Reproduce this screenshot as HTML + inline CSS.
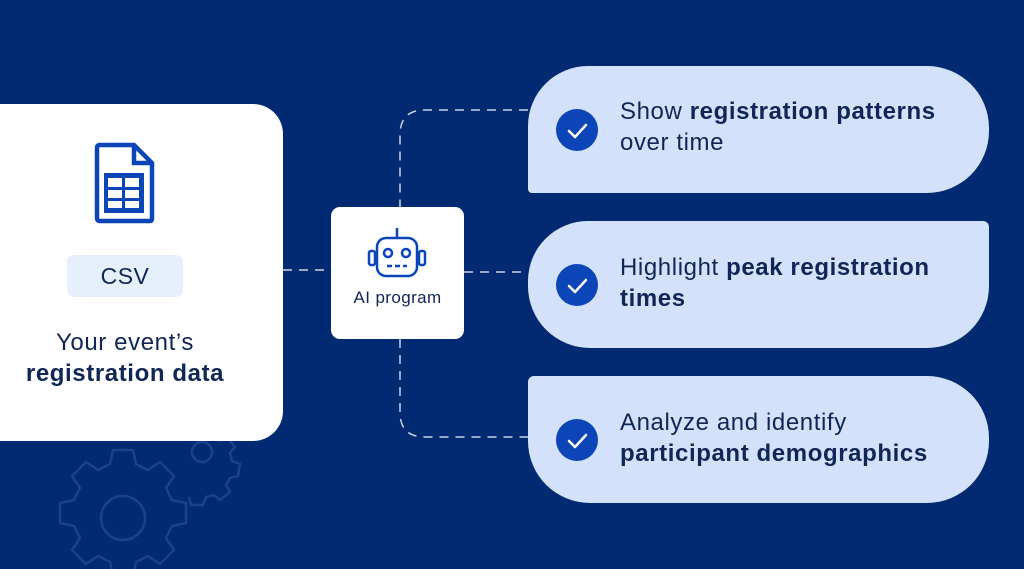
<!DOCTYPE html>
<html><head><meta charset="utf-8"><style>
body{margin:0;width:1024px;height:569px;overflow:hidden;background:#022a73;font-family:"Liberation Sans",sans-serif;position:relative}
.card{position:absolute;left:528px;width:461px;height:127px;background:#d3e2fa;}
.chk{position:absolute;left:556px;width:42px;height:42px;border-radius:50%;background:#0b45b8}
.t{position:absolute;left:620px;font-size:24px;letter-spacing:0.6px;line-height:31px;color:#0f2656}
.t b{font-weight:bold}
</style></head><body>
<svg width="1024" height="569" style="position:absolute;left:0;top:0">
<g fill="none" stroke="#1a4189" stroke-width="2.5">
<circle cx="123" cy="518" r="22"/>
<path d="M123 450 l10 0 l3 14 l12 6 l12 -8 l14 14 l-8 12 l6 12 l14 3 l0 20 l-14 3 l-6 12 l8 12 l-14 14 l-12 -8 l-12 6 l-3 14 l-20 0 l-3 -14 l-12 -6 l-12 8 l-14 -14 l8 -12 l-6 -12 l-14 -3 l0 -20 l14 -3 l6 -12 l-8 -12 l14 -14 l12 8 l12 -6 l3 -14 z"/>
<circle cx="202" cy="452" r="10"/>
<path d="M190 430 l20 0 l3 8 l8 3 l6 -4 l8 10 l-5 6 l2 8 l8 3 l-2 12 l-8 2 l-4 7 l4 7 l-10 8 l-6 -5 l-8 2 l-3 8 l-12 0 l-2 -8"/>
</g>
<g fill="none" stroke="#c9d3e6" stroke-width="1.5" stroke-dasharray="9 7">
<line x1="283" y1="270" x2="331" y2="270"/>
<line x1="464" y1="272" x2="528" y2="272"/>
<path d="M528 110 L425 110 Q400 110 400 135 L400 207"/>
<path d="M400 339 L400 412 Q400 437 425 437 L528 437"/>
</g>
</svg>
<div style="position:absolute;left:-40px;top:104px;width:323px;height:337px;background:#fff;border-radius:30px"></div>
<svg style="position:absolute;left:94px;top:142px" width="62" height="82" viewBox="0 0 62 82">
<path d="M5 3 H40 L58 21 V77 Q58 79 56 79 H6 Q3 79 3 76 V6 Q3 3 6 3 Z" fill="none" stroke="#0b45b8" stroke-width="4.5"/>
<path d="M40 3 V21 H58" fill="none" stroke="#0b45b8" stroke-width="4.5"/>
<rect x="10" y="31" width="40" height="40" fill="#0b45b8"/>
<rect x="14" y="36" width="14" height="9" fill="#fff"/><rect x="31" y="36" width="14" height="9" fill="#fff"/>
<rect x="14" y="48" width="14" height="8" fill="#fff"/><rect x="31" y="48" width="14" height="8" fill="#fff"/>
<rect x="14" y="59" width="14" height="7" fill="#fff"/><rect x="31" y="59" width="14" height="7" fill="#fff"/>
</svg>
<div style="position:absolute;left:67px;top:255px;width:116px;height:42px;background:#e6effc;border-radius:7px;color:#0f2656;font-size:23px;letter-spacing:0.5px;line-height:42px;text-align:center">CSV</div>
<div style="position:absolute;left:0;top:327px;width:250px;text-align:center;font-size:24px;letter-spacing:0.6px;line-height:31px;color:#0f2656">Your event’s<br><b>registration data</b></div>
<div style="position:absolute;left:331px;top:207px;width:133px;height:132px;background:#fff;border-radius:9px"></div>
<svg style="position:absolute;left:366px;top:226px" width="62" height="54" viewBox="0 0 62 54">
<g fill="none" stroke="#0b45b8" stroke-width="2.5">
<line x1="31" y1="2" x2="31" y2="12"/>
<rect x="11" y="12" width="40" height="38" rx="9"/>
<rect x="3" y="25" width="6" height="14" rx="2"/><rect x="53" y="25" width="6" height="14" rx="2"/>
<circle cx="22" cy="27" r="4"/><circle cx="40" cy="27" r="4"/>
<line x1="21" y1="40" x2="41" y2="40" stroke-dasharray="5 3"/>
</g></svg>
<div style="position:absolute;left:331px;top:288px;width:133px;text-align:center;font-size:17px;letter-spacing:0.4px;color:#0f2656">AI program</div>

<div class="card" style="top:66px;border-radius:60px 62px 62px 4px"></div>
<div class="chk" style="top:109px"></div>
<div class="t" style="top:96px">Show <b>registration patterns</b><br>over time</div>

<div class="card" style="top:221px;border-radius:60px 6px 62px 62px"></div>
<div class="chk" style="top:264px"></div>
<div class="t" style="top:252px">Highlight <b>peak registration</b><br><b>times</b></div>

<div class="card" style="top:376px;border-radius:6px 62px 62px 62px"></div>
<div class="chk" style="top:419px"></div>
<div class="t" style="top:407px">Analyze and identify<br><b>participant demographics</b></div>

<svg style="position:absolute;left:556px;top:0" width="42" height="569">
<g fill="none" stroke="#fff" stroke-width="2.5" stroke-linecap="round" stroke-linejoin="round">
<path d="M13 131 L19 137 L30 125"/><path d="M13 286 L19 292 L30 280"/><path d="M13 441 L19 447 L30 435"/>
</g></svg>
</body></html>
